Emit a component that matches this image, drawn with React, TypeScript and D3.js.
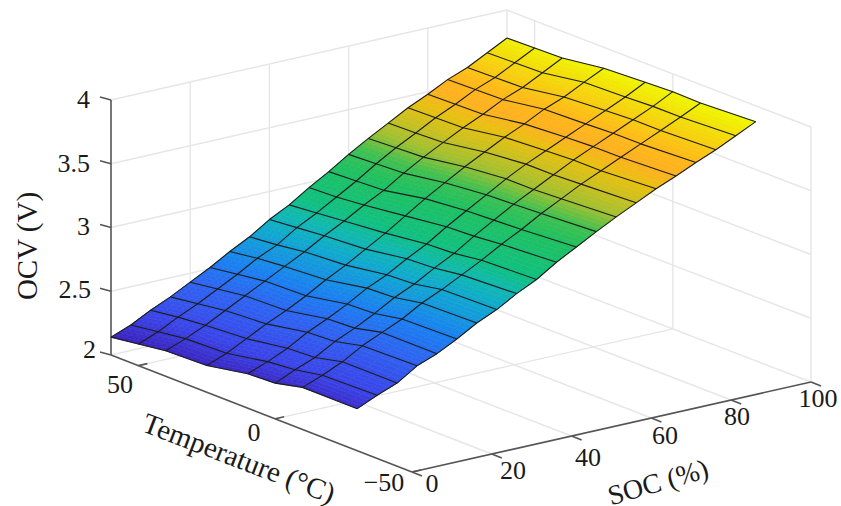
import * as d3 from 'd3';

const temps = [-30, -10, 0, 10, 25, 40, 50, 60];
const socs = d3.range(0, 101, 5);

// OCV, one list per temperature, SOC 0..100 in steps of 5
const ocvTm30 = [2.33, 2.40, 2.46, 2.56, 2.62, 2.70, 2.79, 2.86, 2.95, 3.025, 3.125, 3.21, 3.295, 3.375, 3.45, 3.525, 3.59, 3.66, 3.725, 3.80, 3.875];
const ocvTm10 = [2.33, 2.39, 2.46, 2.55, 2.62, 2.69, 2.78, 2.85, 2.93, 3.01, 3.10, 3.18, 3.27, 3.35, 3.43, 3.50, 3.57, 3.64, 3.71, 3.78, 3.855];
const ocvT0 = [2.28, 2.35, 2.41, 2.50, 2.57, 2.65, 2.74, 2.81, 2.90, 2.98, 3.08, 3.17, 3.26, 3.34, 3.42, 3.50, 3.57, 3.64, 3.71, 3.78, 3.86];
const ocvT10 = [2.27, 2.33, 2.40, 2.49, 2.56, 2.64, 2.73, 2.80, 2.89, 2.97, 3.07, 3.16, 3.25, 3.34, 3.42, 3.49, 3.56, 3.63, 3.70, 3.77, 3.85];
const ocvT25 = [2.21, 2.27, 2.35, 2.43, 2.50, 2.58, 2.67, 2.75, 2.84, 2.93, 3.03, 3.13, 3.22, 3.31, 3.39, 3.47, 3.54, 3.62, 3.68, 3.76, 3.835];
const ocvT40 = [2.20, 2.26, 2.33, 2.41, 2.49, 2.57, 2.65, 2.73, 2.82, 2.90, 2.99, 3.07, 3.17, 3.26, 3.34, 3.42, 3.49, 3.57, 3.63, 3.71, 3.79];
const ocvT50 = [2.17, 2.23, 2.31, 2.38, 2.46, 2.54, 2.63, 2.70, 2.80, 2.88, 2.97, 3.06, 3.16, 3.25, 3.33, 3.415, 3.485, 3.565, 3.625, 3.705, 3.785];
const ocvT60 = [2.14, 2.20, 2.28, 2.35, 2.43, 2.51, 2.60, 2.68, 2.78, 2.86, 2.96, 3.05, 3.15, 3.24, 3.325, 3.41, 3.48, 3.56, 3.62, 3.70, 3.78];
const ocvByTemp = [ocvTm30, ocvTm10, ocvT0, ocvT10, ocvT25, ocvT40, ocvT50, ocvT60];

const zTicks = [2, 2.5, 3, 3.5, 4];
const tempTicks = [-50, 0, 50];
const socTicks = [0, 20, 40, 60, 80, 100];

// colours in the picture follow SOC more than the height, so the key leans on the -30 column
const colorMix = 0.75;
const colorValues = [2.28, 2.40, 2.56, 2.70, 2.86, 2.95, 3.025, 3.21, 3.295, 3.375, 3.45, 3.525, 3.59, 3.66, 3.725, 3.80, 3.875];
const colorStops = ['#3a1fb8', '#3a45e8', '#3060f0', '#1a80f0', '#10a8d0', '#10b8b0', '#10c080', '#20c060', '#40c050', '#a0c030', '#c8c020', '#e8c010', '#ffb020', '#ffb818', '#f8cc10', '#f2e008', '#f0f800'];

const width = 841;
const height = 506;
const serif = '"Liberation Serif", serif';

const tFrac = d3.scaleLinear().domain([-50, 60]).range([0, 1]);
const sFrac = d3.scaleLinear().domain([0, 100]).range([0, 1]);
const zLift = d3.scaleLinear().domain([2, 4]).range([0, 255]);
const color = d3.scaleLinear<string>().domain(colorValues).range(colorStops).interpolate(d3.interpolateRgb).clamp(true);

// floor corners of the box in the picture, bilinear so the slight perspective stays
const project = (t: number, s: number, z: number): [number, number] => {
  const u = tFrac(t);
  const v = sFrac(s);
  const x0 = 412 + (111 - 412) * u;
  const y0 = 472 + (355 - 472) * u;
  const x1 = 811 + (507 - 811) * u;
  const y1 = 382 + (265 - 382) * u;
  return [x0 + (x1 - x0) * v, y0 + (y1 - y0) * v - zLift(z)];
};

const line = d3.line();
const seg = (a: [number, number], b: [number, number]) => line([a, b]) as string;

const colorKey = (i: number, j: number) => ocvByTemp[i][j] + colorMix * (ocvTm30[j] - ocvByTemp[i][j]);

const bilinear = (f: (i: number, j: number) => number, i: number, j: number, a: number, b: number) => {
  const left = f(i, j) + (f(i, j + 1) - f(i, j)) * b;
  const right = f(i + 1, j) + (f(i + 1, j + 1) - f(i + 1, j)) * b;
  return left + (right - left) * a;
};

const buildPatches = () => {
  const steps = 5;
  const out: { d: string; fill: string }[] = [];
  const ocv = (i: number, j: number) => ocvByTemp[i][j];
  for (let i = 0; i < temps.length - 1; i++) {
    for (let j = 0; j < socs.length - 1; j++) {
      const p = (a: number, b: number) =>
        project(temps[i] + (temps[i + 1] - temps[i]) * a, socs[j] + (socs[j + 1] - socs[j]) * b, bilinear(ocv, i, j, a, b));
      for (let a = 0; a < steps; a++) {
        for (let b = 0; b < steps; b++) {
          const a0 = a / steps;
          const a1 = (a + 1) / steps;
          const b0 = b / steps;
          const b1 = (b + 1) / steps;
          out.push({
            d: (line([p(a0, b0), p(a1, b0), p(a1, b1), p(a0, b1)]) as string) + 'Z',
            fill: color(bilinear(colorKey, i, j, (a0 + a1) / 2, (b0 + b1) / 2)),
          });
        }
      }
    }
  }
  return out;
};

const patches = buildPatches();

const wallLines = [
  ...zTicks.slice(1).map(z => seg(project(60, 0, z), project(60, 100, z))),
  ...zTicks.slice(1).map(z => seg(project(60, 100, z), project(-50, 100, z))),
  ...socTicks.slice(1).map(s => seg(project(60, s, 2), project(60, s, 4))),
  ...tempTicks.map(t => seg(project(t, 100, 2), project(t, 100, 4))),
  seg(project(60, 0, 2), project(60, 100, 2)),
  seg(project(60, 100, 2), project(-50, 100, 2)),
  ...socTicks.slice(1, -1).map(s => seg(project(60, s, 2), project(-50, s, 2))),
  ...tempTicks.slice(1).map(t => seg(project(t, 0, 2), project(t, 100, 2))),
];

const meshLines = [
  ...temps.map((t, i) => line(socs.map((s, j) => project(t, s, ocvByTemp[i][j]))) as string),
  ...socs.map((s, j) => line(temps.map((t, i) => project(t, s, ocvByTemp[i][j]))) as string),
];

const zLabels = [
  { v: 2, label: '2', x: 96, y: 349 },
  { v: 2.5, label: '2.5', x: 91, y: 289 },
  { v: 3, label: '3', x: 90, y: 226 },
  { v: 3.5, label: '3.5', x: 90, y: 163 },
  { v: 4, label: '4', x: 90, y: 99 },
];
const tempLabels = [
  { label: '50', x: 120, y: 384 },
  { label: '0', x: 254, y: 432 },
  { label: '\u221250', x: 384, y: 482 },
];
const socLabels = [
  { label: '0', x: 432, y: 483 },
  { label: '20', x: 513, y: 470 },
  { label: '40', x: 588, y: 457 },
  { label: '60', x: 665, y: 435 },
  { label: '80', x: 737, y: 416 },
  { label: '100', x: 818, y: 398 },
];

export default function App() {
  const axisColor = '#555';
  return (
    <svg width={width} height={height} style={{ position: 'absolute', left: 0, top: 0, background: '#fff' }} fontFamily={serif} fontSize={26} fill="#1a1a1a">
      <g fill="none" stroke="#e6e6e6" strokeWidth={1.4}>
        {wallLines.map((d, i) => <path key={i} d={d} />)}
      </g>

      <g fill="none" stroke={axisColor} strokeWidth={1.6}>
        <path d={seg(project(60, 0, 2), project(60, 0, 4))} />
        <path d={seg(project(60, 0, 2), project(-50, 0, 2))} />
        <path d={seg(project(-50, 0, 2), project(-50, 100, 2))} />
        {zTicks.map(z => {
          const [x, y] = project(60, 0, z);
          return <path key={z} d={seg([x, y], [x - 11, y - 3])} />;
        })}
        {tempTicks.map(t => {
          const [x, y] = project(t, 0, 2);
          return <path key={t} d={seg([x, y], [x + 9, y - 2])} />;
        })}
        {socTicks.map(s => {
          const [x, y] = project(-50, s, 2);
          return <path key={s} d={seg([x, y], [x + 10, y + 4])} />;
        })}
      </g>

      <g>
        {patches.map((p, i) => <path key={i} d={p.d} fill={p.fill} stroke={p.fill} strokeWidth={0.6} />)}
      </g>
      <g fill="none" stroke="#1c1c1c" strokeWidth={1.1} strokeLinejoin="round">
        {meshLines.map((d, i) => <path key={i} d={d} />)}
      </g>

      <g textAnchor="end" dominantBaseline="central">
        {zLabels.map(d => <text key={d.v} x={d.x} y={d.y}>{d.label}</text>)}
      </g>
      <g textAnchor="middle" dominantBaseline="central">
        {tempLabels.map(d => <text key={d.label} x={d.x} y={d.y}>{d.label}</text>)}
        {socLabels.map(d => <text key={d.label} x={d.x} y={d.y}>{d.label}</text>)}
      </g>

      <g textAnchor="middle" dominantBaseline="central" fontSize={29}>
        <text transform="translate(27,246) rotate(-90)">OCV (V)</text>
        <text transform="translate(239,458) rotate(21)">Temperature (°C)</text>
        <text transform="translate(658,482) rotate(-16)" fontSize={28}>SOC (%)</text>
      </g>
    </svg>
  );
}
